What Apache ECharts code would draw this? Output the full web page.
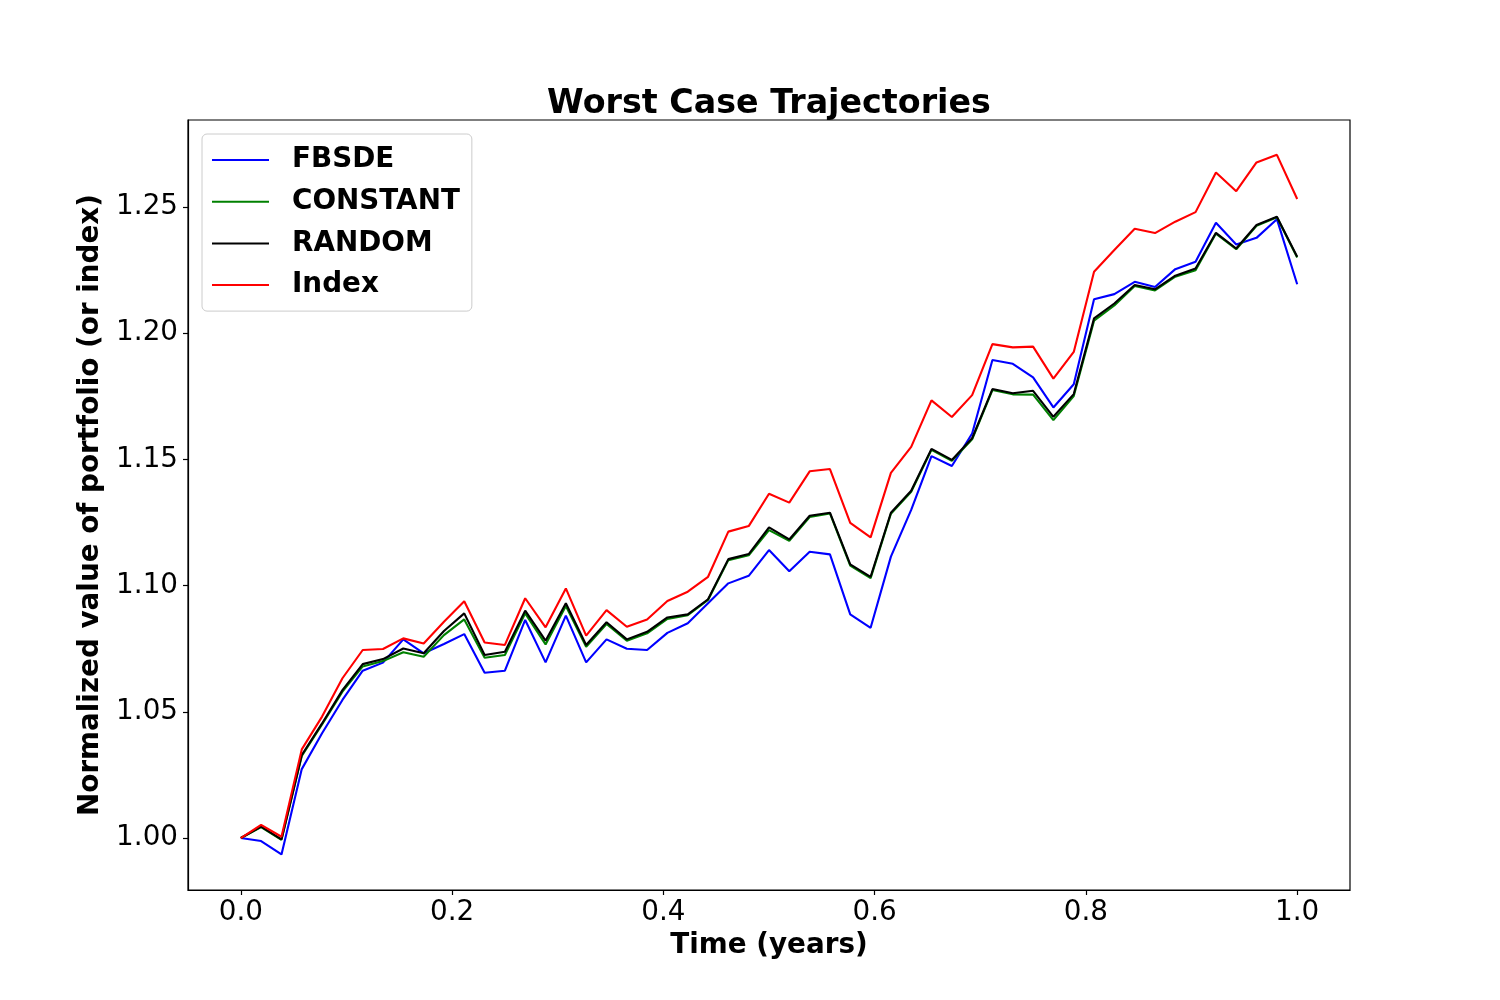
<!DOCTYPE html>
<html>
<head>
<meta charset="utf-8">
<script src="https://cdn.jsdelivr.net/npm/echarts@6/dist/echarts.min.js"></script>
<style>
html,body{margin:0;padding:0;background:#fff;}
#chart{width:1500px;height:1000px;}
</style>
</head>
<body>
<div id="chart"></div>
<script>
const times = [0, 0.0192, 0.0385, 0.0577, 0.0769, 0.0962, 0.1154, 0.1346, 0.1538, 0.1731, 0.1923, 0.2115, 0.2308, 0.25, 0.2692, 0.2885, 0.3077, 0.3269, 0.3462, 0.3654, 0.3846, 0.4038, 0.4231, 0.4423, 0.4615, 0.4808, 0.5, 0.5192, 0.5385, 0.5577, 0.5769, 0.5962, 0.6154, 0.6346, 0.6538, 0.6731, 0.6923, 0.7115, 0.7308, 0.75, 0.7692, 0.7885, 0.8077, 0.8269, 0.8462, 0.8654, 0.8846, 0.9038, 0.9231, 0.9423, 0.9615, 0.9808, 1.0];

const fbsde = [1.000, 0.9988, 0.9935, 1.0273, 1.0415, 1.0547, 1.0663, 1.0695, 1.0787, 1.0732, 1.0769, 1.0808, 1.0655, 1.0663, 1.0864, 1.0696, 1.0881, 1.0696, 1.0787, 1.0750, 1.0745, 1.0813, 1.0851, 1.0930, 1.1009, 1.1039, 1.1141, 1.1057, 1.1134, 1.1124, 1.0886, 1.0833, 1.1115, 1.1300, 1.1513, 1.1474, 1.1603, 1.1894, 1.1879, 1.1825, 1.1706, 1.1798, 1.2135, 1.2155, 1.2204, 1.2183, 1.2254, 1.2283, 1.2438, 1.2352, 1.2378, 1.2452, 1.2194];

const constant = [1.000, 1.0043, 0.9993, 1.0325, 1.0450, 1.0580, 1.0680, 1.0701, 1.0736, 1.0718, 1.0804, 1.0866, 1.0714, 1.0725, 1.0890, 1.0767, 1.0919, 1.0758, 1.0848, 1.0782, 1.0811, 1.0868, 1.0883, 1.0943, 1.1101, 1.1120, 1.1220, 1.1178, 1.1272, 1.1286, 1.1079, 1.1030, 1.1285, 1.1372, 1.1538, 1.1495, 1.1580, 1.1775, 1.1758, 1.1757, 1.1656, 1.1751, 1.2050, 1.2110, 1.2187, 1.2170, 1.2224, 1.2250, 1.2395, 1.2333, 1.2426, 1.2460, 1.2300];

const random = [1.000, 1.0045, 0.9995, 1.0329, 1.0454, 1.0586, 1.0689, 1.0709, 1.0751, 1.0732, 1.0820, 1.0890, 1.0725, 1.0738, 1.0901, 1.0782, 1.0930, 1.0765, 1.0855, 1.0787, 1.0817, 1.0874, 1.0886, 1.0946, 1.1105, 1.1125, 1.1231, 1.1183, 1.1277, 1.1289, 1.1084, 1.1035, 1.1289, 1.1376, 1.1542, 1.1498, 1.1584, 1.1779, 1.1762, 1.1772, 1.1669, 1.1759, 1.2059, 1.2118, 1.2191, 1.2174, 1.2228, 1.2257, 1.2398, 1.2336, 1.2429, 1.2462, 1.2303];

const indexVals = [1.000, 1.0052, 1.0005, 1.0351, 1.0481, 1.0633, 1.0745, 1.0749, 1.0791, 1.0771, 1.0857, 1.0938, 1.0775, 1.0765, 1.0950, 1.0835, 1.0989, 1.0802, 1.0903, 1.0837, 1.0866, 1.0939, 1.0976, 1.1035, 1.1214, 1.1236, 1.1364, 1.1329, 1.1453, 1.1462, 1.1249, 1.1191, 1.1447, 1.1550, 1.1734, 1.1668, 1.1755, 1.1957, 1.1944, 1.1947, 1.1820, 1.1926, 1.2244, 1.2330, 1.2414, 1.2397, 1.2442, 1.2480, 1.2637, 1.2563, 1.2677, 1.2707, 1.2532];

const xTicks = [0.0, 0.2, 0.4, 0.6, 0.8, 1.0];
const yTicks = [1.00, 1.05, 1.10, 1.15, 1.20, 1.25];

const seriesNames = ['FBSDE', 'CONSTANT', 'RANDOM', 'Index'];
const seriesColors = ['#0000ff', '#008000', '#000000', '#ff0000'];
const seriesValues = [fbsde, constant, random, indexVals];

const FONT = 'DejaVu Sans';

function pairs(vals) {
  return vals.map((v, i) => [times[i], v]);
}

const chart = echarts.init(document.getElementById('chart'), null, {renderer: 'canvas'});
chart.setOption({
  animation: false,
  backgroundColor: '#ffffff',
  title: {
    text: 'Worst Case Trajectories',
    left: 769,
    top: 88,
    textAlign: 'center',
    padding: 0,
    textStyle: {fontFamily: FONT, fontSize: 33.3, fontWeight: 'bold', color: '#000'}
  },
  legend: {
    orient: 'vertical',
    left: 202,
    top: 134,
    padding: [11, 12, 11, 10],
    itemGap: 11.7,
    itemWidth: 57,
    itemHeight: 2,
    icon: 'rect',
    borderColor: '#cccccc',
    borderWidth: 1,
    borderRadius: 5,
    backgroundColor: 'rgba(255,255,255,0.8)',
    textStyle: {fontFamily: FONT, fontSize: 27.8, fontWeight: 'bold', color: '#000', lineHeight: 30, padding: [0, 0, 0, 18]},
    data: seriesNames
  },
  grid: {
    left: 188, top: 120, right: 150, bottom: 110,
    show: true, borderColor: '#000', borderWidth: 1.2, backgroundColor: 'transparent',
    containLabel: false
  },
  xAxis: {
    type: 'value',
    min: -0.05,
    max: 1.05,
    name: 'Time (years)',
    nameLocation: 'middle',
    nameGap: 40,
    nameTextStyle: {fontFamily: FONT, fontSize: 27.8, fontWeight: 'bold', color: '#000'},
    axisLine: {show: true, onZero: false, lineStyle: {color: '#000', width: 1.2}},
    axisTick: {show: true, length: 5, lineStyle: {color: '#000', width: 1.2}, customValues: xTicks},
    axisLabel: {fontFamily: FONT, fontSize: 27.8, color: '#000', margin: 9, customValues: xTicks,
      formatter: v => v.toFixed(1)},
    splitLine: {show: false}
  },
  yAxis: {
    type: 'value',
    min: 0.9794,
    max: 1.2845,
    name: 'Normalized value of portfolio (or index)',
    nameLocation: 'middle',
    nameGap: 80,
    nameTextStyle: {fontFamily: FONT, fontSize: 27.8, fontWeight: 'bold', color: '#000'},
    axisLine: {show: true, onZero: false, lineStyle: {color: '#000', width: 1.2}},
    axisTick: {show: true, length: 5, lineStyle: {color: '#000', width: 1.2}, customValues: yTicks},
    axisLabel: {fontFamily: FONT, fontSize: 27.8, color: '#000', margin: 10, customValues: yTicks,
      formatter: v => v.toFixed(2)},
    splitLine: {show: false}
  },
  series: seriesNames.map((name, k) => ({
    name: name,
    type: 'line',
    data: pairs(seriesValues[k]),
    showSymbol: false,
    symbol: 'none',
    lineStyle: {color: seriesColors[k], width: 2.1},
    itemStyle: {color: seriesColors[k]},
    z: 2 + k
  }))
});
</script>
</body>
</html>
